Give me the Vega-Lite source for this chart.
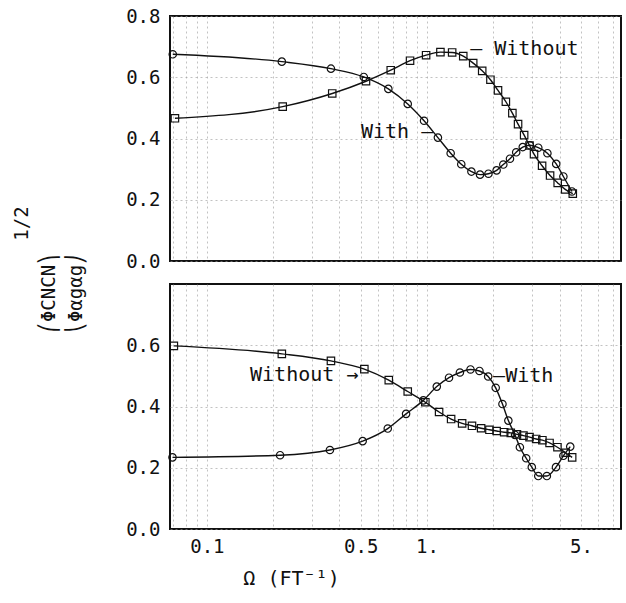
{
  "$schema": "https://vega.github.io/schema/vega-lite/v6.json",
  "background": "white",
  "padding": {"left": 11, "top": 6, "right": 2, "bottom": 2},
  "spacing": 23,
  "bounds": "flush",
  "config": {
    "view": {"stroke": "#111", "strokeWidth": 2},
    "font": "DejaVu Sans Mono",
    "axis": {
      "labelFont": "DejaVu Sans Mono", "labelFontSize": 19, "labelColor": "#111",
      "titleFont": "DejaVu Sans Mono", "titleFontSize": 19, "titleFontWeight": "normal", "titleColor": "#111",
      "ticks": false, "domain": false, "labelOverlap": false, "labelFlush": false,
      "gridColor": "#999", "gridDash": [2, 3], "gridWidth": 1, "gridOpacity": 0.6
    }
  },
  "datasets": {
    "curves": [
      {"panel": "top", "series": "With", "x": 0.070, "y": 0.675},
      {"panel": "top", "series": "With", "x": 0.219, "y": 0.651},
      {"panel": "top", "series": "With", "x": 0.366, "y": 0.628},
      {"panel": "top", "series": "With", "x": 0.516, "y": 0.601},
      {"panel": "top", "series": "With", "x": 0.667, "y": 0.562},
      {"panel": "top", "series": "With", "x": 0.817, "y": 0.513},
      {"panel": "top", "series": "With", "x": 0.969, "y": 0.458},
      {"panel": "top", "series": "With", "x": 1.12, "y": 0.403},
      {"panel": "top", "series": "With", "x": 1.28, "y": 0.352},
      {"panel": "top", "series": "With", "x": 1.43, "y": 0.316},
      {"panel": "top", "series": "With", "x": 1.59, "y": 0.292},
      {"panel": "top", "series": "With", "x": 1.74, "y": 0.282},
      {"panel": "top", "series": "With", "x": 1.90, "y": 0.285},
      {"panel": "top", "series": "With", "x": 2.07, "y": 0.296},
      {"panel": "top", "series": "With", "x": 2.22, "y": 0.315},
      {"panel": "top", "series": "With", "x": 2.38, "y": 0.334},
      {"panel": "top", "series": "With", "x": 2.54, "y": 0.355},
      {"panel": "top", "series": "With", "x": 2.72, "y": 0.372},
      {"panel": "top", "series": "With", "x": 2.93, "y": 0.378},
      {"panel": "top", "series": "With", "x": 3.20, "y": 0.370},
      {"panel": "top", "series": "With", "x": 3.52, "y": 0.352},
      {"panel": "top", "series": "With", "x": 3.86, "y": 0.317},
      {"panel": "top", "series": "With", "x": 4.16, "y": 0.276},
      {"panel": "top", "series": "With", "x": 4.55, "y": 0.227},
      {"panel": "top", "series": "Without", "x": 0.0716, "y": 0.466},
      {"panel": "top", "series": "Without", "x": 0.221, "y": 0.504},
      {"panel": "top", "series": "Without", "x": 0.371, "y": 0.547},
      {"panel": "top", "series": "Without", "x": 0.528, "y": 0.587},
      {"panel": "top", "series": "Without", "x": 0.684, "y": 0.623},
      {"panel": "top", "series": "Without", "x": 0.837, "y": 0.654},
      {"panel": "top", "series": "Without", "x": 0.99, "y": 0.672},
      {"panel": "top", "series": "Without", "x": 1.15, "y": 0.682},
      {"panel": "top", "series": "Without", "x": 1.30, "y": 0.681},
      {"panel": "top", "series": "Without", "x": 1.46, "y": 0.669},
      {"panel": "top", "series": "Without", "x": 1.62, "y": 0.646},
      {"panel": "top", "series": "Without", "x": 1.78, "y": 0.621},
      {"panel": "top", "series": "Without", "x": 1.94, "y": 0.592},
      {"panel": "top", "series": "Without", "x": 2.10, "y": 0.557},
      {"panel": "top", "series": "Without", "x": 2.28, "y": 0.520},
      {"panel": "top", "series": "Without", "x": 2.44, "y": 0.483},
      {"panel": "top", "series": "Without", "x": 2.59, "y": 0.447},
      {"panel": "top", "series": "Without", "x": 2.76, "y": 0.411},
      {"panel": "top", "series": "Without", "x": 2.92, "y": 0.377},
      {"panel": "top", "series": "Without", "x": 3.06, "y": 0.349},
      {"panel": "top", "series": "Without", "x": 3.33, "y": 0.311},
      {"panel": "top", "series": "Without", "x": 3.62, "y": 0.279},
      {"panel": "top", "series": "Without", "x": 3.92, "y": 0.255},
      {"panel": "top", "series": "Without", "x": 4.24, "y": 0.234},
      {"panel": "top", "series": "Without", "x": 4.59, "y": 0.220},
      {"panel": "bottom", "series": "Without", "x": 0.0708, "y": 0.598},
      {"panel": "bottom", "series": "Without", "x": 0.219, "y": 0.572},
      {"panel": "bottom", "series": "Without", "x": 0.366, "y": 0.549},
      {"panel": "bottom", "series": "Without", "x": 0.519, "y": 0.522},
      {"panel": "bottom", "series": "Without", "x": 0.670, "y": 0.486},
      {"panel": "bottom", "series": "Without", "x": 0.817, "y": 0.449},
      {"panel": "bottom", "series": "Without", "x": 0.982, "y": 0.414},
      {"panel": "bottom", "series": "Without", "x": 1.134, "y": 0.382},
      {"panel": "bottom", "series": "Without", "x": 1.286, "y": 0.359},
      {"panel": "bottom", "series": "Without", "x": 1.443, "y": 0.345},
      {"panel": "bottom", "series": "Without", "x": 1.60, "y": 0.337},
      {"panel": "bottom", "series": "Without", "x": 1.76, "y": 0.329},
      {"panel": "bottom", "series": "Without", "x": 1.92, "y": 0.324},
      {"panel": "bottom", "series": "Without", "x": 2.07, "y": 0.320},
      {"panel": "bottom", "series": "Without", "x": 2.24, "y": 0.316},
      {"panel": "bottom", "series": "Without", "x": 2.40, "y": 0.314},
      {"panel": "bottom", "series": "Without", "x": 2.56, "y": 0.309},
      {"panel": "bottom", "series": "Without", "x": 2.74, "y": 0.305},
      {"panel": "bottom", "series": "Without", "x": 2.92, "y": 0.300},
      {"panel": "bottom", "series": "Without", "x": 3.13, "y": 0.294},
      {"panel": "bottom", "series": "Without", "x": 3.34, "y": 0.290},
      {"panel": "bottom", "series": "Without", "x": 3.60, "y": 0.281},
      {"panel": "bottom", "series": "Without", "x": 3.91, "y": 0.267},
      {"panel": "bottom", "series": "Without", "x": 4.26, "y": 0.249},
      {"panel": "bottom", "series": "Without", "x": 4.56, "y": 0.234},
      {"panel": "bottom", "series": "With", "x": 0.0698, "y": 0.234},
      {"panel": "bottom", "series": "With", "x": 0.215, "y": 0.241},
      {"panel": "bottom", "series": "With", "x": 0.362, "y": 0.258},
      {"panel": "bottom", "series": "With", "x": 0.510, "y": 0.287},
      {"panel": "bottom", "series": "With", "x": 0.663, "y": 0.328},
      {"panel": "bottom", "series": "With", "x": 0.803, "y": 0.376},
      {"panel": "bottom", "series": "With", "x": 0.962, "y": 0.420},
      {"panel": "bottom", "series": "With", "x": 1.107, "y": 0.465},
      {"panel": "bottom", "series": "With", "x": 1.258, "y": 0.494},
      {"panel": "bottom", "series": "With", "x": 1.41, "y": 0.511},
      {"panel": "bottom", "series": "With", "x": 1.575, "y": 0.521},
      {"panel": "bottom", "series": "With", "x": 1.73, "y": 0.516},
      {"panel": "bottom", "series": "With", "x": 1.895, "y": 0.498},
      {"panel": "bottom", "series": "With", "x": 2.05, "y": 0.461},
      {"panel": "bottom", "series": "With", "x": 2.20, "y": 0.408},
      {"panel": "bottom", "series": "With", "x": 2.34, "y": 0.354},
      {"panel": "bottom", "series": "With", "x": 2.51, "y": 0.307},
      {"panel": "bottom", "series": "With", "x": 2.64, "y": 0.267},
      {"panel": "bottom", "series": "With", "x": 2.82, "y": 0.231},
      {"panel": "bottom", "series": "With", "x": 2.99, "y": 0.202},
      {"panel": "bottom", "series": "With", "x": 3.20, "y": 0.173},
      {"panel": "bottom", "series": "With", "x": 3.50, "y": 0.173},
      {"panel": "bottom", "series": "With", "x": 3.85, "y": 0.202},
      {"panel": "bottom", "series": "With", "x": 4.16, "y": 0.239},
      {"panel": "bottom", "series": "With", "x": 4.47, "y": 0.269}
    ],
    "notes": [
      {"panel": "top", "label": "– Without", "x": 1.569, "y": 0.693},
      {"panel": "top", "label": "With –", "x": 0.501, "y": 0.422},
      {"panel": "bottom", "label": "Without →", "x": 0.157, "y": 0.503},
      {"panel": "bottom", "label": "–With", "x": 1.995, "y": 0.498}
    ]
  },
  "vconcat": [
    {
      "width": 451,
      "height": 245,
      "layer": [
        {
          "data": {"name": "curves"},
          "transform": [{"filter": "datum.panel == 'top'"}],
          "mark": {"type": "line", "interpolate": "monotone", "color": "#111", "strokeWidth": 1.4},
          "encoding": {
            "x": {"field": "x", "type": "quantitative", "scale": {"type": "log", "domain": [0.068, 7.6], "nice": false},
              "axis": {"values": [0.07, 0.08, 0.09, 0.1, 0.2, 0.3, 0.4, 0.5, 0.6, 0.7, 0.8, 0.9, 1, 2, 3, 4, 5, 6, 7], "labels": false, "title": null, "grid": true}},
            "y": {"field": "y", "type": "quantitative", "scale": {"domain": [0, 0.8], "nice": false},
              "axis": {"values": [0, 0.2, 0.4, 0.6, 0.8], "format": ".1f", "labelPadding": 10, "grid": true,
                "title": ["\u2800\u2800\u2800\u2800\u2800\u2800\u2800\u2800\u2800\u28001/2", "⎛ΦCNCN⎞", "⎝Φαgαg⎠"],
                "titleLineHeight": 27, "titleX": -139, "titleY": 277}},
            "detail": {"field": "series"}
          }
        },
        {
          "data": {"name": "curves"},
          "transform": [{"filter": "datum.panel == 'top'"}],
          "mark": {"type": "point", "filled": false, "color": "#111", "strokeWidth": 1.2, "size": 55, "opacity": 1},
          "encoding": {
            "x": {"field": "x", "type": "quantitative"},
            "y": {"field": "y", "type": "quantitative"},
            "shape": {"field": "series", "type": "nominal", "scale": {"domain": ["With", "Without"], "range": ["circle", "square"]}, "legend": null}
          }
        },
        {
          "data": {"name": "notes"},
          "transform": [{"filter": "datum.panel == 'top'"}],
          "mark": {"type": "text", "align": "left", "baseline": "middle", "font": "DejaVu Sans Mono", "fontSize": 20, "color": "#111"},
          "encoding": {
            "x": {"field": "x", "type": "quantitative"},
            "y": {"field": "y", "type": "quantitative"},
            "text": {"field": "label"}
          }
        }
      ]
    },
    {
      "width": 451,
      "height": 245,
      "layer": [
        {
          "data": {"name": "curves"},
          "transform": [{"filter": "datum.panel == 'bottom'"}],
          "mark": {"type": "line", "interpolate": "monotone", "color": "#111", "strokeWidth": 1.4},
          "encoding": {
            "x": {"field": "x", "type": "quantitative", "scale": {"type": "log", "domain": [0.068, 7.6], "nice": false},
              "axis": {"values": [0.07, 0.08, 0.09, 0.1, 0.2, 0.3, 0.4, 0.5, 0.6, 0.7, 0.8, 0.9, 1, 2, 3, 4, 5, 6, 7],
                "labelExpr": "datum.value == 0.1 ? '0.1' : datum.value == 0.5 ? '0.5' : datum.value == 1 ? '\u00a01.' : datum.value == 5 ? '\u00a05.' : ''",
                "labelPadding": 8, "grid": true,
                "title": "Ω (FT⁻¹)", "titleFontSize": 20, "titleX": 121, "titleY": 49, "titleBaseline": "middle"}},
            "y": {"field": "y", "type": "quantitative", "scale": {"domain": [0, 0.8], "nice": false},
              "axis": {"values": [0, 0.2, 0.4, 0.6], "format": ".1f", "labelPadding": 10, "grid": true, "title": null}},
            "detail": {"field": "series"}
          }
        },
        {
          "data": {"name": "curves"},
          "transform": [{"filter": "datum.panel == 'bottom'"}],
          "mark": {"type": "point", "filled": false, "color": "#111", "strokeWidth": 1.2, "size": 55, "opacity": 1},
          "encoding": {
            "x": {"field": "x", "type": "quantitative"},
            "y": {"field": "y", "type": "quantitative"},
            "shape": {"field": "series", "type": "nominal", "scale": {"domain": ["With", "Without"], "range": ["circle", "square"]}, "legend": null}
          }
        },
        {
          "data": {"name": "notes"},
          "transform": [{"filter": "datum.panel == 'bottom'"}],
          "mark": {"type": "text", "align": "left", "baseline": "middle", "font": "DejaVu Sans Mono", "fontSize": 20, "color": "#111"},
          "encoding": {
            "x": {"field": "x", "type": "quantitative"},
            "y": {"field": "y", "type": "quantitative"},
            "text": {"field": "label"}
          }
        }
      ]
    }
  ]
}
